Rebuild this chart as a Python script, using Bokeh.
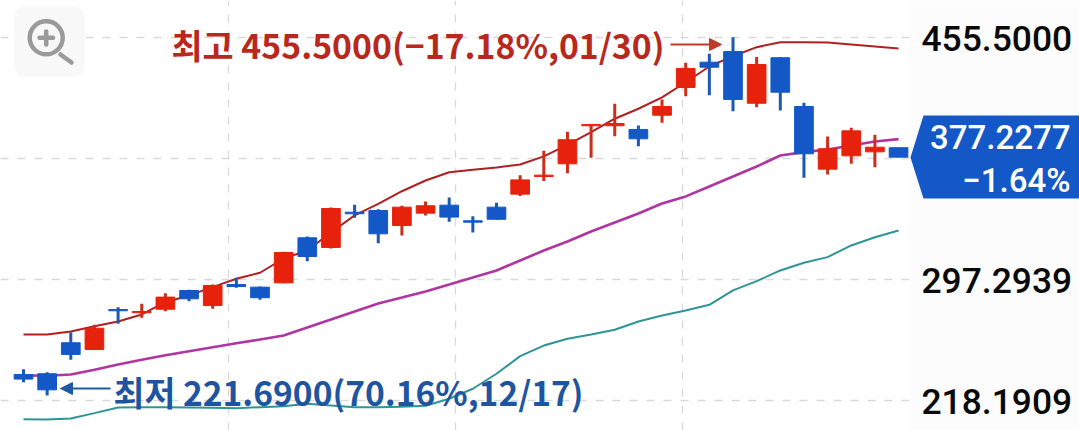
from bokeh.plotting import figure
from bokeh.embed import file_html
from bokeh.resources import INLINE
from bokeh.core.properties import value
from bokeh.models import (FixedTicker, Label, PolyAnnotation, Arrow, NormalHead,
                          BoxAnnotation, ColumnDataSource, Range1d)

# ---------- data ----------
opens = [235.4,235.9,256.1,251.7,277.8,275.7,278.0,290.2,280.4,294.1,292.4,295.2,324.6,318.3,341.3,342.4,332.6,340.7,345.9,335.7,
         344.6,353.1,364.6,372.9,397.7,397.7,395.3,404.6,422.7,439.2,446.2,412.4,442.1,410.3,369.4,378.1,380.7,383.4]
closes = [232.4,225.4,248.5,265.6,277.0,276.5,285.9,284.8,293.5,292.8,285.5,315.0,312.4,343.7,340.3,327.2,344.6,345.5,338.1,334.8,
          336.7,362.4,365.5,388.6,398.5,399.2,389.2,410.3,435.1,435.9,414.9,437.7,419.6,379.4,382.7,394.4,383.7,377.2277]
highs = [238.9,236.9,263.0,267.85,279.3,281.5,288.5,290.7,294.1,298.5,292.8,315.5,325.4,344.4,346.1,343.3,345.5,348.3,350.9,338.7,
         347.4,365.5,381.4,393.8,398.5,412.1,397.9,414.9,438.8,444.7,455.5,442.5,442.5,412.7,390.7,396.4,391.8,383.4]
lows = [230.4,221.69,245.0,251.5,268.5,272.4,276.7,283.2,278.3,292.0,284.2,295.0,309.3,317.6,337.7,321.1,326.1,339.2,335.1,328.1,
        336.4,351.8,361.6,366.8,376.8,390.9,384.4,399.7,417.0,417.7,407.2,409.8,407.7,363.8,365.9,372.9,370.7,377.2277]
rising = [0,0,0,1,0,1,1,0,1,0,0,1,0,1,0,0,1,1,0,0,0,1,1,1,1,1,0,1,1,0,0,1,0,0,1,1,1,0]

ma_red = [261.5,261.5,263.5,266.9,270.0,274.6,282.6,287.0,292.4,297.9,301.8,311.1,316.3,328.1,339.2,346.8,355.0,362.0,367.4,369.0,
          370.5,372.4,377.7,385.3,393.5,402.3,408.8,416.2,426.1,436.4,443.1,449.0,452.2,452.2,452.0,450.7,449.4,448.1]
ma_magenta = [234.8,234.6,235.4,238.5,241.9,245.0,248.0,250.6,253.2,255.8,258.2,260.9,266.1,271.3,276.5,281.7,285.6,289.6,294.1,298.7,
              303.3,309.8,316.3,322.2,328.7,334.6,340.5,347.0,351.6,358.1,364.6,371.1,378.3,380.5,382.2,384.8,387.4,389.0]
ma_teal = [206.2,206.0,206.7,210.2,213.9,214.1,214.1,213.9,213.7,213.4,214.1,214.7,216.3,215.2,214.1,214.1,214.3,215.0,219.6,226.1,
           235.9,247.4,254.3,258.7,261.5,264.6,270.0,273.9,277.2,280.9,290.3,296.3,303.3,308.3,312.0,319.6,325.0,329.4]

price_ticks = [455.5, 297.2939, 218.1909]
grid_levels = [455.5, 376.3, 297.3, 218.2]
grid_slots = [8.65, 18.25, 27.85]
last_price = "377.2277"
last_change = "\u22121.64%"
high_text = "\ucd5c\uace0 455.5000(\u221217.18%,01/30)"
low_text = "\ucd5c\uc800 221.6900(70.16%,12/17)"

RED, BLUE = "#e6220c", "#1358c6"
WICK_RED, WICK_BLUE = "#c9301c", "#1c58b4"

# reference pixel -> data helpers (layout only)
def X(px): return (px - 23) / 23.65
def Y(py): return 455.5 - (py - 36.7) / 1.5325

p = figure(width=1079, height=430, output_backend="svg", toolbar_location=None,
           x_range=Range1d(X(0), X(1079)), y_range=Range1d(Y(430), Y(0)),
           x_axis_location=None, y_axis_location=None,
           min_border_left=0, min_border_top=0, min_border_bottom=0, min_border_right=0,
           background_fill_color="white", border_fill_color="white", outline_line_color=None)

p.ygrid.ticker = FixedTicker(ticks=grid_levels)
p.xgrid.ticker = FixedTicker(ticks=grid_slots)
for g in (p.xgrid, p.ygrid):
    g.grid_line_color = "#d9d9d9"
    g.grid_line_dash = "8 9"
    g.grid_line_width = 1.3

idx = list(range(len(opens)))

# moving averages under candles
p.line(idx, ma_red, line_color="#b02020", line_width=2)
p.line(idx, ma_magenta, line_color="#b0359f", line_width=2.6)
p.line(idx, ma_teal, line_color="#2f9498", line_width=2)

src = ColumnDataSource(dict(
    x=idx, high=highs, low=lows,
    top=[max(o, c) for o, c in zip(opens, closes)],
    bottom=[min(o, c) for o, c in zip(opens, closes)],
    fill=[RED if r else BLUE for r in rising],
    wick=[WICK_RED if r else WICK_BLUE for r in rising],
))
p.segment("x", "high", "x", "low", source=src, line_color="wick", line_width=3)
p.vbar("x", width=0.79, top="top", bottom="bottom", source=src, fill_color="fill", line_color="fill", line_width=1)

# right price panel covers the grid
p.add_layout(BoxAnnotation(left=X(909), right=X(1079), top=Y(0), bottom=Y(430), fill_color="#fcfcfc", fill_alpha=1,
                           line_color=None))
p.text([X(921)] * len(price_ticks), price_ticks, text=[f"{v:.4f}" for v in price_ticks], text_font=value("Roboto Medium"),
       text_font_size="35.4px", text_color="#0a0a0a", text_align="left", text_baseline="middle", y_offset=1, level="overlay")

# zoom icon
p.add_layout(BoxAnnotation(left=X(14), right=X(84), top=Y(6), bottom=Y(76), fill_color="#f8f8f8", fill_alpha=1,
                           line_color=None, border_radius=10))
ICON = "#9a9a9a"
p.scatter([X(45.7)], [Y(37.3)], marker="circle", size=33, fill_color=None, line_color=ICON, line_width=4.5, level="overlay")
p.segment([X(39), X(45.7), X(60)], [Y(37.3), Y(31), Y(54)], [X(52.5), X(45.7), X(71)], [Y(37.3), Y(44), Y(62)],
          line_color=ICON, line_width=4.5, line_cap="round", level="overlay")

# annotations
p.add_layout(Label(x=X(171), y=Y(44), text=high_text, text_font="Noto Sans CJK KR", text_font_style="bold",
                   text_font_size="33.8px", text_color="#b9281c", text_align="left", text_baseline="middle"))
p.add_layout(Label(x=X(113), y=Y(391), text=low_text, text_font="Noto Sans CJK KR", text_font_style="bold",
                   text_font_size="33.6px", text_color="#1f55a0", text_align="left", text_baseline="middle"))
p.add_layout(Arrow(x_start=X(670), y_start=Y(44), x_end=X(721), y_end=Y(44), line_color="#c0392b", line_width=2,
                   end=NormalHead(size=12, fill_color="#c0392b", line_color="#c0392b")))
p.add_layout(Arrow(x_start=X(110), y_start=Y(388), x_end=X(60), y_end=Y(388), line_color="#1f5aa0", line_width=2,
                   end=NormalHead(size=12, fill_color="#1f5aa0", line_color="#1f5aa0")))

# last price tag
p.add_layout(PolyAnnotation(xs=[X(910), X(923), X(1079), X(1079), X(923)], ys=[Y(157), Y(115), Y(115), Y(198), Y(198)],
                            fill_color=BLUE, fill_alpha=1, line_color=None))
for txt, py in ((last_price, 136), (last_change, 180)):
    p.add_layout(Label(x=X(1070), y=Y(py), text=txt, text_font="Roboto Medium", text_font_size="33px", text_color="white",
                       text_align="right", text_baseline="middle"))

open("out.html", "w").write(file_html(p, INLINE))
